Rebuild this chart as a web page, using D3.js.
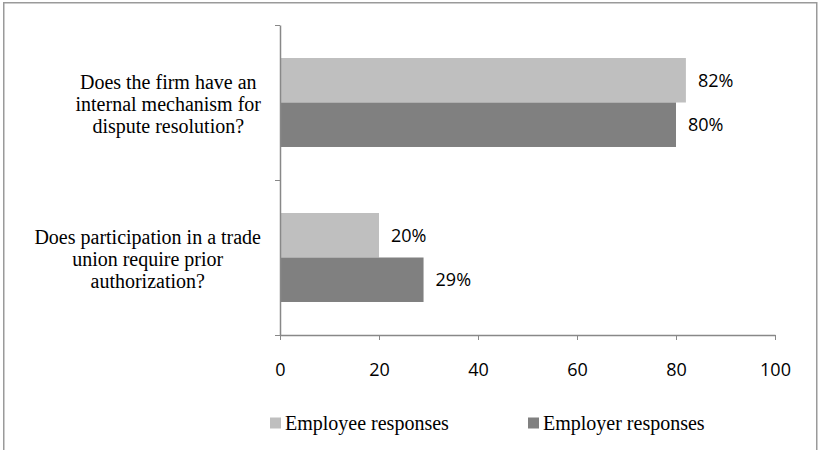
<!DOCTYPE html>
<html><head><meta charset="utf-8">
<script src="https://cdn.jsdelivr.net/npm/d3@7"></script>
<style>body{margin:0;background:#fff;}svg{display:block;}</style>
</head><body><svg id="c" width="818" height="450"></svg>
<script>
const categories = ["Does the firm have an internal mechanism for dispute resolution?", "Does participation in a trade union require prior authorization?"];
const categoryLines = [["Does the firm have an", "internal mechanism for", "dispute resolution?"], ["Does participation in a trade", "union require prior", "authorization?"]];
const seriesNames = ["Employee responses", "Employer responses"];
const employeeValues = [82, 20];
const employerValues = [80, 29];
const xTicks = [0, 20, 40, 60, 80, 100];
const colors = ["#BFBFBF", "#808080"];

(function(){
const svg = d3.select("#c");
const serif = "'Liberation Serif','Times New Roman',serif";
const sans = "'Open Sans','Liberation Sans',sans-serif";
const axisColor = "#888888";

// frame
svg.append("rect").attr("x",3.75).attr("y",2.75).attr("width",813).attr("height",470)
  .attr("fill","none").attr("stroke","#9a9a9a").attr("stroke-width",1.5);

const pLeft = 280, pRight = 775, pTop = 25, pBottom = 335;
const x = d3.scaleLinear().domain([0,100]).range([pLeft,pRight]);
const y = d3.scaleBand().domain(categories).range([pTop,pBottom]).paddingInner(0.426).paddingOuter(0.213);
const yb = d3.scaleBand().domain(seriesNames).range([0,y.bandwidth()]);
const yEdge = d3.scaleLinear().domain([0,categories.length]).range([pTop,pBottom]);

const data = categories.map((c,i)=>({cat:c, vals:[employeeValues[i], employerValues[i]]}));

// bars
const g = svg.append("g");
data.forEach(d=>{
  d.vals.forEach((v,j)=>{
    const yy = y(d.cat)+yb(seriesNames[j]);
    g.append("rect").attr("x",x(0)).attr("y",yy).attr("width",x(v)-x(0)).attr("height",yb.bandwidth())
      .attr("fill",colors[j]);
    g.append("text").attr("x",x(v)+12).attr("y",yy+yb.bandwidth()/2).attr("dy","0.35em")
      .attr("font-family",sans).attr("font-size",18).attr("fill","#000").text(v+"%");
  });
});

// x axis
const xa = svg.append("g").attr("transform",`translate(0,${pBottom})`)
  .call(d3.axisBottom(x).tickValues(xTicks).tickSize(5).tickPadding(23).tickSizeOuter(0));
xa.select(".domain").attr("stroke",axisColor).attr("stroke-width",1.5);
xa.selectAll(".tick line").attr("stroke",axisColor).attr("stroke-width",1);
xa.selectAll("text").attr("font-family",sans).attr("font-size",18).attr("fill","#000");

// y axis
const ya = svg.append("g").attr("transform",`translate(${pLeft},0)`)
  .call(d3.axisLeft(yEdge).tickValues(d3.range(categories.length+1)).tickFormat("").tickSize(5).tickSizeOuter(0));
ya.select(".domain").attr("stroke",axisColor).attr("stroke-width",1.5);
ya.selectAll(".tick line").attr("stroke",axisColor).attr("stroke-width",1);

// category labels
const labelRight = 261, lh = 22;
categories.forEach((c,i)=>{
  const lines = categoryLines[i];
  const grp = svg.append("g");
  const cy = y(c)+y.bandwidth()/2 + 1;
  const ts = lines.map((l,k)=>grp.append("text").attr("y",cy+(k-(lines.length-1)/2)*lh).attr("dy","0.35em")
    .attr("font-family",serif).attr("font-size",20).attr("fill","#000").attr("text-anchor","middle").text(l));
  const maxW = d3.max(ts, t=>t.node().getComputedTextLength());
  ts.forEach(t=>t.attr("x",labelRight-maxW/2));
});

// legend
const legY = 423;
const legX = [270, 528];
seriesNames.forEach((s,j)=>{
  svg.append("rect").attr("x",legX[j]).attr("y",legY-5.5).attr("width",11).attr("height",11).attr("fill",colors[j]);
  svg.append("text").attr("x",legX[j]+15).attr("y",legY).attr("dy","0.35em")
    .attr("font-family",serif).attr("font-size",20).attr("fill","#000").text(s);
});
})();
</script></body></html>
